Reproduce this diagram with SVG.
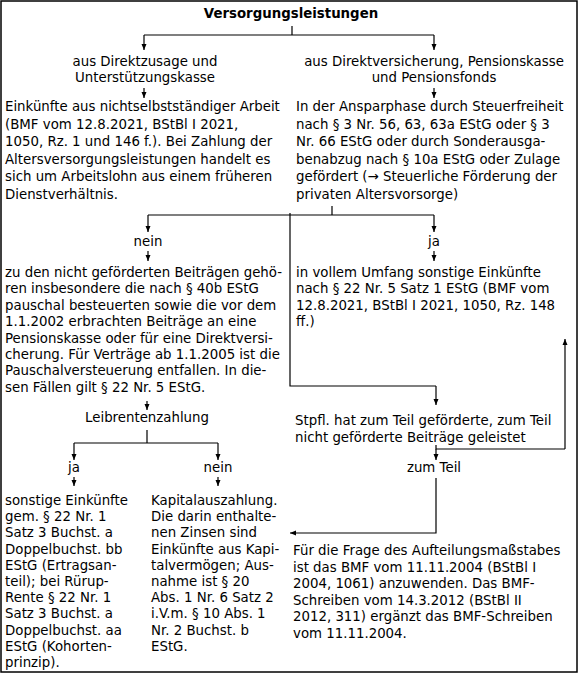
<svg xmlns="http://www.w3.org/2000/svg" width="579" height="674" viewBox="0 0 579 674">
<style>
text{font-family:"DejaVu Sans","Verdana",sans-serif;font-size:13.33px;fill:#000}
.c{text-anchor:middle}
.b{font-weight:bold}
.ln{fill:none;stroke:#000;stroke-width:1.2}
.ar{fill:none;stroke:#000;stroke-width:1.2;marker-end:url(#ah)}
</style>
<defs>
<marker id="ah" viewBox="0 0 6 6" refX="6" refY="3" markerWidth="6" markerHeight="6" markerUnits="userSpaceOnUse" orient="auto">
<path d="M0,0.5 L6,3 L0,5.5 z" fill="#000"/>
</marker>
</defs>
<rect x="1" y="1" width="576" height="671" fill="#fff" stroke="#000" stroke-width="1.5"/>
<g id="title"><text class="c b" x="291" y="18">Versorgungsleistungen</text></g>
<g id="h-left"><text class="c" x="145" y="66">aus Direktzusage und</text><text class="c" x="145" y="82">Unterstützungskasse</text></g>
<g id="h-right"><text class="c" x="434" y="66">aus Direktversicherung, Pensionskasse</text><text class="c" x="434" y="82">und Pensionsfonds</text></g>
<g id="block-left">
<text x="5" y="111">Einkünfte aus nichtselbstständiger Arbeit</text>
<text x="5" y="128.6">(BMF vom 12.8.2021, BStBl I 2021,</text>
<text x="5" y="146.2">1050, Rz. 1 und 146 f.). Bei Zahlung der</text>
<text x="5" y="163.8">Altersversorgungsleistungen handelt es</text>
<text x="5" y="181.4">sich um Arbeitslohn aus einem früheren</text>
<text x="5" y="199">Dienstverhältnis.</text>
</g>
<g id="block-right">
<text x="296" y="111">In der Ansparphase durch Steuerfreiheit</text>
<text x="296" y="128.6">nach § 3 Nr. 56, 63, 63a EStG oder § 3</text>
<text x="296" y="146.2">Nr. 66 EStG oder durch Sonderausga-</text>
<text x="296" y="163.8">benabzug nach § 10a EStG oder Zulage</text>
<text x="296" y="181.4">gefördert (→ Steuerliche Förderung der</text>
<text x="296" y="199">privaten Altersvorsorge)</text>
</g>
<g id="nein1"><text class="c" x="148" y="246">nein</text></g>
<g id="ja1"><text class="c" x="434" y="246">ja</text></g>
<g id="block-nein">
<text x="5" y="277">zu den nicht geförderten Beiträgen gehö-</text>
<text x="5" y="293.4">ren insbesondere die nach § 40b EStG</text>
<text x="5" y="309.8">pauschal besteuerten sowie die vor dem</text>
<text x="5" y="326.2">1.1.2002 erbrachten Beiträge an eine</text>
<text x="5" y="342.6">Pensionskasse oder für eine Direktversi-</text>
<text x="5" y="359">cherung. Für Verträge ab 1.1.2005 ist die</text>
<text x="5" y="375.4">Pauschalversteuerung entfallen. In die-</text>
<text x="5" y="391.8">sen Fällen gilt § 22 Nr. 5 EStG.</text>
</g>
<g id="block-ja">
<text x="296" y="277">in vollem Umfang sonstige Einkünfte</text>
<text x="296" y="293.4">nach § 22 Nr. 5 Satz 1 EStG (BMF vom</text>
<text x="296" y="309.8">12.8.2021, BStBl I 2021, 1050, Rz. 148</text>
<text x="296" y="326.2">ff.)</text>
</g>
<g id="leibrente"><text class="c" x="147" y="422">Leibrentenzahlung</text></g>
<g id="stpfl">
<text x="295" y="425">Stpfl. hat zum Teil geförderte, zum Teil</text>
<text x="295" y="442">nicht geförderte Beiträge geleistet</text>
</g>
<g id="zumteil"><text class="c" x="434" y="472">zum Teil</text></g>
<g id="ja2"><text class="c" x="74" y="472">ja</text></g>
<g id="nein2"><text class="c" x="218" y="472">nein</text></g>
<g id="block-sonstige">
<text x="5" y="505">sonstige Einkünfte</text>
<text x="5" y="521.2">gem. § 22 Nr. 1</text>
<text x="5" y="537.4">Satz 3 Buchst. a</text>
<text x="5" y="553.6">Doppelbuchst. bb</text>
<text x="5" y="569.8">EStG (Ertragsan-</text>
<text x="5" y="586">teil); bei Rürup-</text>
<text x="5" y="602.2">Rente § 22 Nr. 1</text>
<text x="5" y="618.4">Satz 3 Buchst. a</text>
<text x="5" y="634.6">Doppelbuchst. aa</text>
<text x="5" y="650.8">EStG (Kohorten-</text>
<text x="5" y="667">prinzip).</text>
</g>
<g id="block-kapital">
<text x="151" y="505">Kapitalauszahlung.</text>
<text x="151" y="521.2">Die darin enthalte-</text>
<text x="151" y="537.4">nen Zinsen sind</text>
<text x="151" y="553.6">Einkünfte aus Kapi-</text>
<text x="151" y="569.8">talvermögen; Aus-</text>
<text x="151" y="586">nahme ist § 20</text>
<text x="151" y="602.2">Abs. 1 Nr. 6 Satz 2</text>
<text x="151" y="618.4">i.V.m. § 10 Abs. 1</text>
<text x="151" y="634.6">Nr. 2 Buchst. b</text>
<text x="151" y="650.8">EStG.</text>
</g>
<g id="block-aufteilung">
<text x="293" y="555">Für die Frage des Aufteilungsmaßstabes</text>
<text x="293" y="571.6">ist das BMF vom 11.11.2004 (BStBl I</text>
<text x="293" y="588.2">2004, 1061) anzuwenden. Das BMF-</text>
<text x="293" y="604.8">Schreiben vom 14.3.2012 (BStBl II</text>
<text x="293" y="621.4">2012, 311) ergänzt das BMF-Schreiben</text>
<text x="293" y="638">vom 11.11.2004.</text>
</g>
<g id="connectors">
<path class="ln" d="M292,26 V35 M144,35 H434"/>
<path class="ar" d="M144,35 V50"/>
<path class="ar" d="M434,35 V50"/>
<path class="ar" d="M144,88 V98"/>
<path class="ar" d="M434,88 V98"/>
<path class="ln" d="M332,206 V215 M148,215 H434"/>
<path class="ar" d="M148,215 V232"/>
<path class="ar" d="M434,215 V232"/>
<path class="ar" d="M148,251 V261"/>
<path class="ar" d="M434,251 V261"/>
<path class="ln" d="M290,213 V386 H436"/>
<path class="ar" d="M436,386 V405"/>
<path class="ar" d="M147,401 V410"/>
<path class="ln" d="M147,430 V443 M74,443 H218"/>
<path class="ar" d="M74,443 V460"/>
<path class="ar" d="M218,443 V460"/>
<path class="ar" d="M74,477 V486"/>
<path class="ar" d="M218,477 V486"/>
<path class="ln" d="M436,445 V449 H565"/>
<path class="ar" d="M565,449 V339"/>
<path class="ar" d="M436,449 V460"/>
<path class="ar" d="M436,478 V533 H290"/>
</g>
</svg>
